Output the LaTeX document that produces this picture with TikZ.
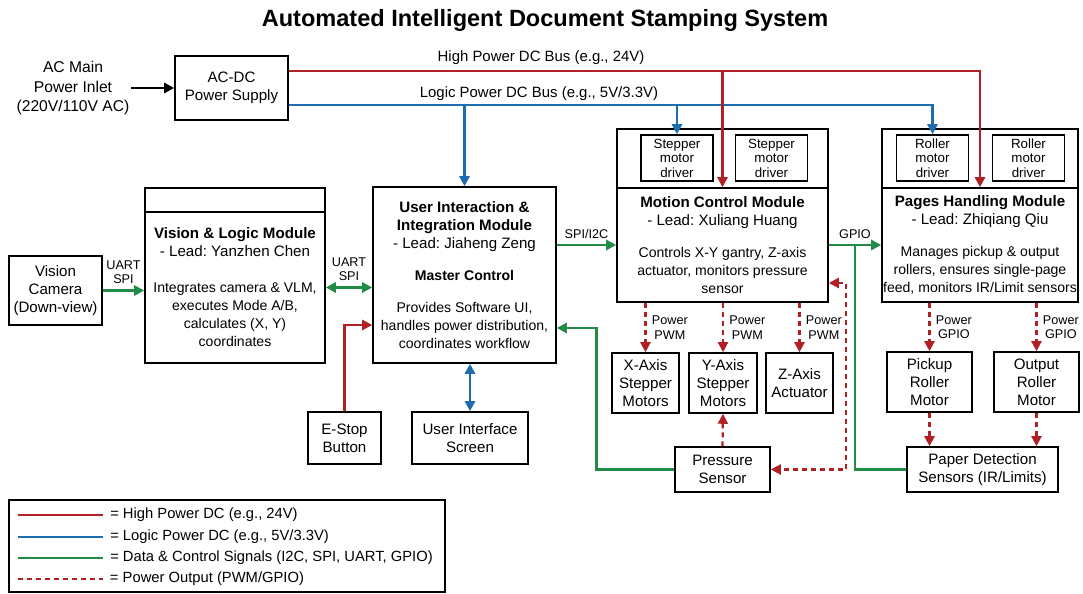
\documentclass[tikz,border=0pt]{standalone}
\usepackage{fontspec}
\setmainfont{Liberation Sans}
\usetikzlibrary{arrows.meta,calc}

\definecolor{hpred}{RGB}{176,32,36}
\definecolor{lpblue}{RGB}{30,108,176}
\definecolor{siggreen}{RGB}{34,140,70}

\newcommand\titlefont{\fontsize{13.4}{16}\selectfont\bfseries}
\newcommand\boxfont{\fontsize{8.6}{10.3}\selectfont}
\newcommand\descfont{\fontsize{8}{9.8}\selectfont}
\newcommand\drvfont{\fontsize{7.6}{8.3}\selectfont}
\newcommand\smalllbl{\fontsize{7.2}{8.2}\selectfont}
\newcommand\busfont{\fontsize{8.5}{10}\selectfont}
\newcommand\inletfont{\fontsize{8.9}{11}\selectfont}
\newcommand\legfont{\fontsize{8.4}{10}\selectfont}
\frenchspacing

\begin{document}
\begin{tikzpicture}[
		x=0.02cm, y=-0.02cm,
		>={Triangle[length=2mm,width=2mm]},
		blk/.style={draw, line width=0.9pt, align=center, inner sep=1pt, font=\boxfont},
		drv/.style={blk, font=\drvfont, inner sep=0pt, minimum width=1.44cm, minimum height=0.92cm},
		sigtag/.style={align=center, font=\smalllbl, inner sep=1pt},
		hp/.style={draw=hpred, line width=1.6pt},
		lp/.style={draw=lpblue, line width=1.6pt},
		sig/.style={draw=siggreen, line width=1.6pt},
		pout/.style={draw=hpred, line width=1.3pt, dash pattern=on 2.8pt off 2.3pt}
	]
  \useasboundingbox (0,0) rectangle (1083,594);

  \node (title) [font=\titlefont] at (545,20) {Automated Intelligent Document Stamping System};

  \node (acin) [align=center, font=\inletfont, inner sep=1pt] at (73,88) {AC Main\\Power Inlet\\(220V/110V AC)};
  \node (psu) [blk, minimum width=2.26cm, minimum height=1.28cm] at (231.5,88) {AC-DC\\Power Supply};

  \node (cam) [blk, minimum width=1.86cm, minimum height=1.38cm] at (55.5,290.5) {Vision\\Camera\\(Down-view)};
  \node (visionhead) [blk, minimum width=3.6cm, minimum height=0.48cm] at (235,200) {};
  \node (vision) [blk, minimum width=3.6cm, minimum height=3.02cm] at (235,287.5) {\textbf{Vision \& Logic Module}\\- Lead: Yanzhen Chen\\[10pt]
    \descfont Integrates camera \& VLM,\\\descfont executes Mode A/B,\\\descfont calculates (X, Y)\\\descfont coordinates};

  \node (ui) [blk, minimum width=3.66cm, minimum height=3.52cm] at (464.5,275) {\textbf{User Interaction \&}\\\textbf{Integration Module}\\- Lead: Jiaheng Zeng\\[8pt]
    \descfont\textbf{Master Control}\\[8pt]
    \descfont Provides Software UI,\\\descfont handles power distribution,\\\descfont coordinates workflow};
  \node (estop) [blk, minimum width=1.46cm, minimum height=1.04cm] at (344.5,438) {E-Stop\\Button};
  \node (uiscr) [blk, minimum width=2.32cm, minimum height=1.04cm] at (470,438) {User Interface\\Screen};

  \node (motionhead) [blk, minimum width=4.22cm, minimum height=1.18cm] at (722.5,158.5) {};
  \node (motion) [blk, minimum width=4.22cm, minimum height=2.28cm] at (722.5,245) {\textbf{Motion Control Module}\\- Lead: Xuliang Huang\\[8pt]
    \descfont Controls X-Y gantry, Z-axis\\\descfont actuator, monitors pressure\\\descfont sensor};
  \node (sd1) [drv] at (677,158) {Stepper\\motor\\driver};
  \node (sd2) [drv] at (771.5,158) {Stepper\\motor\\driver};

  \node (pageshead) [blk, minimum width=3.92cm, minimum height=1.18cm] at (980,158.5) {};
  \node (pages) [blk, inner sep=0pt, minimum width=3.92cm, minimum height=2.28cm] at (980,245) {\textbf{Pages Handling Module}\\- Lead: Zhiqiang Qiu\\[8pt]
    \descfont Manages pickup \& output\\\descfont rollers, ensures single-page\\\descfont feed, monitors IR/Limit sensors};
  \node (rd1) [drv] at (932.5,158) {Roller\\motor\\driver};
  \node (rd2) [drv] at (1028.5,158) {Roller\\motor\\driver};

  \node (xmot) [blk, minimum width=1.34cm, minimum height=1.2cm] at (645.5,383) {X-Axis\\Stepper\\Motors};
  \node (ymot) [blk, minimum width=1.36cm, minimum height=1.2cm] at (723,383) {Y-Axis\\Stepper\\Motors};
  \node (zact) [blk, minimum width=1.34cm, minimum height=1.2cm] at (799.5,383) {Z-Axis\\Actuator};
  \node (press) [blk, minimum width=1.9cm, minimum height=0.9cm] at (722.5,469.5) {Pressure\\Sensor};

  \node (pickup) [blk, minimum width=1.7cm, minimum height=1.2cm] at (929.5,382) {Pickup\\Roller\\Motor};
  \node (output) [blk, minimum width=1.7cm, minimum height=1.2cm] at (1036.5,382) {Output\\Roller\\Motor};
  \node (paper) [blk, minimum width=3.02cm, minimum height=0.9cm] at (982.5,469.5) {Paper Detection\\Sensors (IR/Limits)};

  % power buses
  \coordinate (hpbus) at (0,71);
  \coordinate (lpbus) at (0,105);
  \node (hplbl) [font=\busfont] at (541,58) {High Power DC Bus (e.g., 24V)};
  \node (lplbl) [font=\busfont] at (539,94) {Logic Power DC Bus (e.g., 5V/3.3V)};

  \draw[line width=1.4pt,->] (acin) -- (psu);
  \draw[lp,->] (psu.east |- lpbus) -| (rd1.north);
  \draw[lp,->] (ui.north |- lpbus) -- (ui.north);
  \draw[lp,->] (sd1.north |- lpbus) -- (sd1.north);
  \draw[hp,->] (psu.east |- hpbus) -| (pages.north);
  \draw[hp,->] (motion.north |- hpbus) -- (motion.north);

  % data and control
  \draw[sig,->] (cam.east) -- node [sigtag, above=2pt] {UART\\SPI} (cam.east -| vision.west);
  \draw[sig,<->] (vision.east) -- node [sigtag, above=2pt] {UART\\SPI} (vision.east -| ui.west);
  \draw[sig,->] (ui.east |- motion.west) -- node [sigtag, above=2pt] {SPI/I2C} (motion.west);
  \draw[sig,->] (motion.east) -- node [sigtag, above=2pt] {GPIO} (pages.west);
  \draw[sig] (paper.west) -| ($(motion.east)!0.5!(pages.west)$);
  \draw[sig,->] (press.west) -- ++(-78,0) |- ($(ui.east)+(0,53)$);
  \draw[hp,->] (estop.north) |- ($(ui.west)+(0,50)$);
  \draw[lp,<->] (uiscr.north) -- (uiscr.north |- ui.south);

  % power outputs
  \draw[pout,->] (xmot.north |- motion.south) -- node [sigtag, right=2pt] {Power\\PWM} (xmot.north);
  \draw[pout,->] (ymot.north |- motion.south) -- node [sigtag, right=2pt] {Power\\PWM} (ymot.north);
  \draw[pout,->] (zact.north |- motion.south) -- node [sigtag, right=2pt] {Power\\PWM} (zact.north);
  \draw[pout,->] (press.north) -- (ymot.south);
  \draw[pout,<->] ($(motion.east)+(0,38)$) -- ++(17,0) |- (press.east);
  \draw[pout,->] (pickup.north |- pages.south) -- node [sigtag, right=2pt] {Power\\GPIO} (pickup.north);
  \draw[pout,->] (output.north |- pages.south) -- node [sigtag, right=2pt] {Power\\GPIO} (output.north);
  \draw[pout,->] (pickup.south) -- (pickup.south |- paper.north);
  \draw[pout,->] (output.south) -- (output.south |- paper.north);

  % legend
  \node (legend) [draw, line width=0.9pt, minimum width=8.72cm, minimum height=1.84cm] at (227,546) {};
  \draw[hp] (18,515) -- (103,515) node (leghp) [right, font=\legfont] {= High Power DC (e.g., 24V)};
  \draw[lp] (18,537) -- (103,537) node (leglp) [right, font=\legfont] {= Logic Power DC (e.g., 5V/3.3V)};
  \draw[sig] (18,558) -- (103,558) node (legsig) [right, font=\legfont] {= Data \& Control Signals (I2C, SPI, UART, GPIO)};
  \draw[pout] (18,579) -- (103,579) node (legpout) [right, font=\legfont] {= Power Output (PWM/GPIO)};
\end{tikzpicture}
\end{document}
